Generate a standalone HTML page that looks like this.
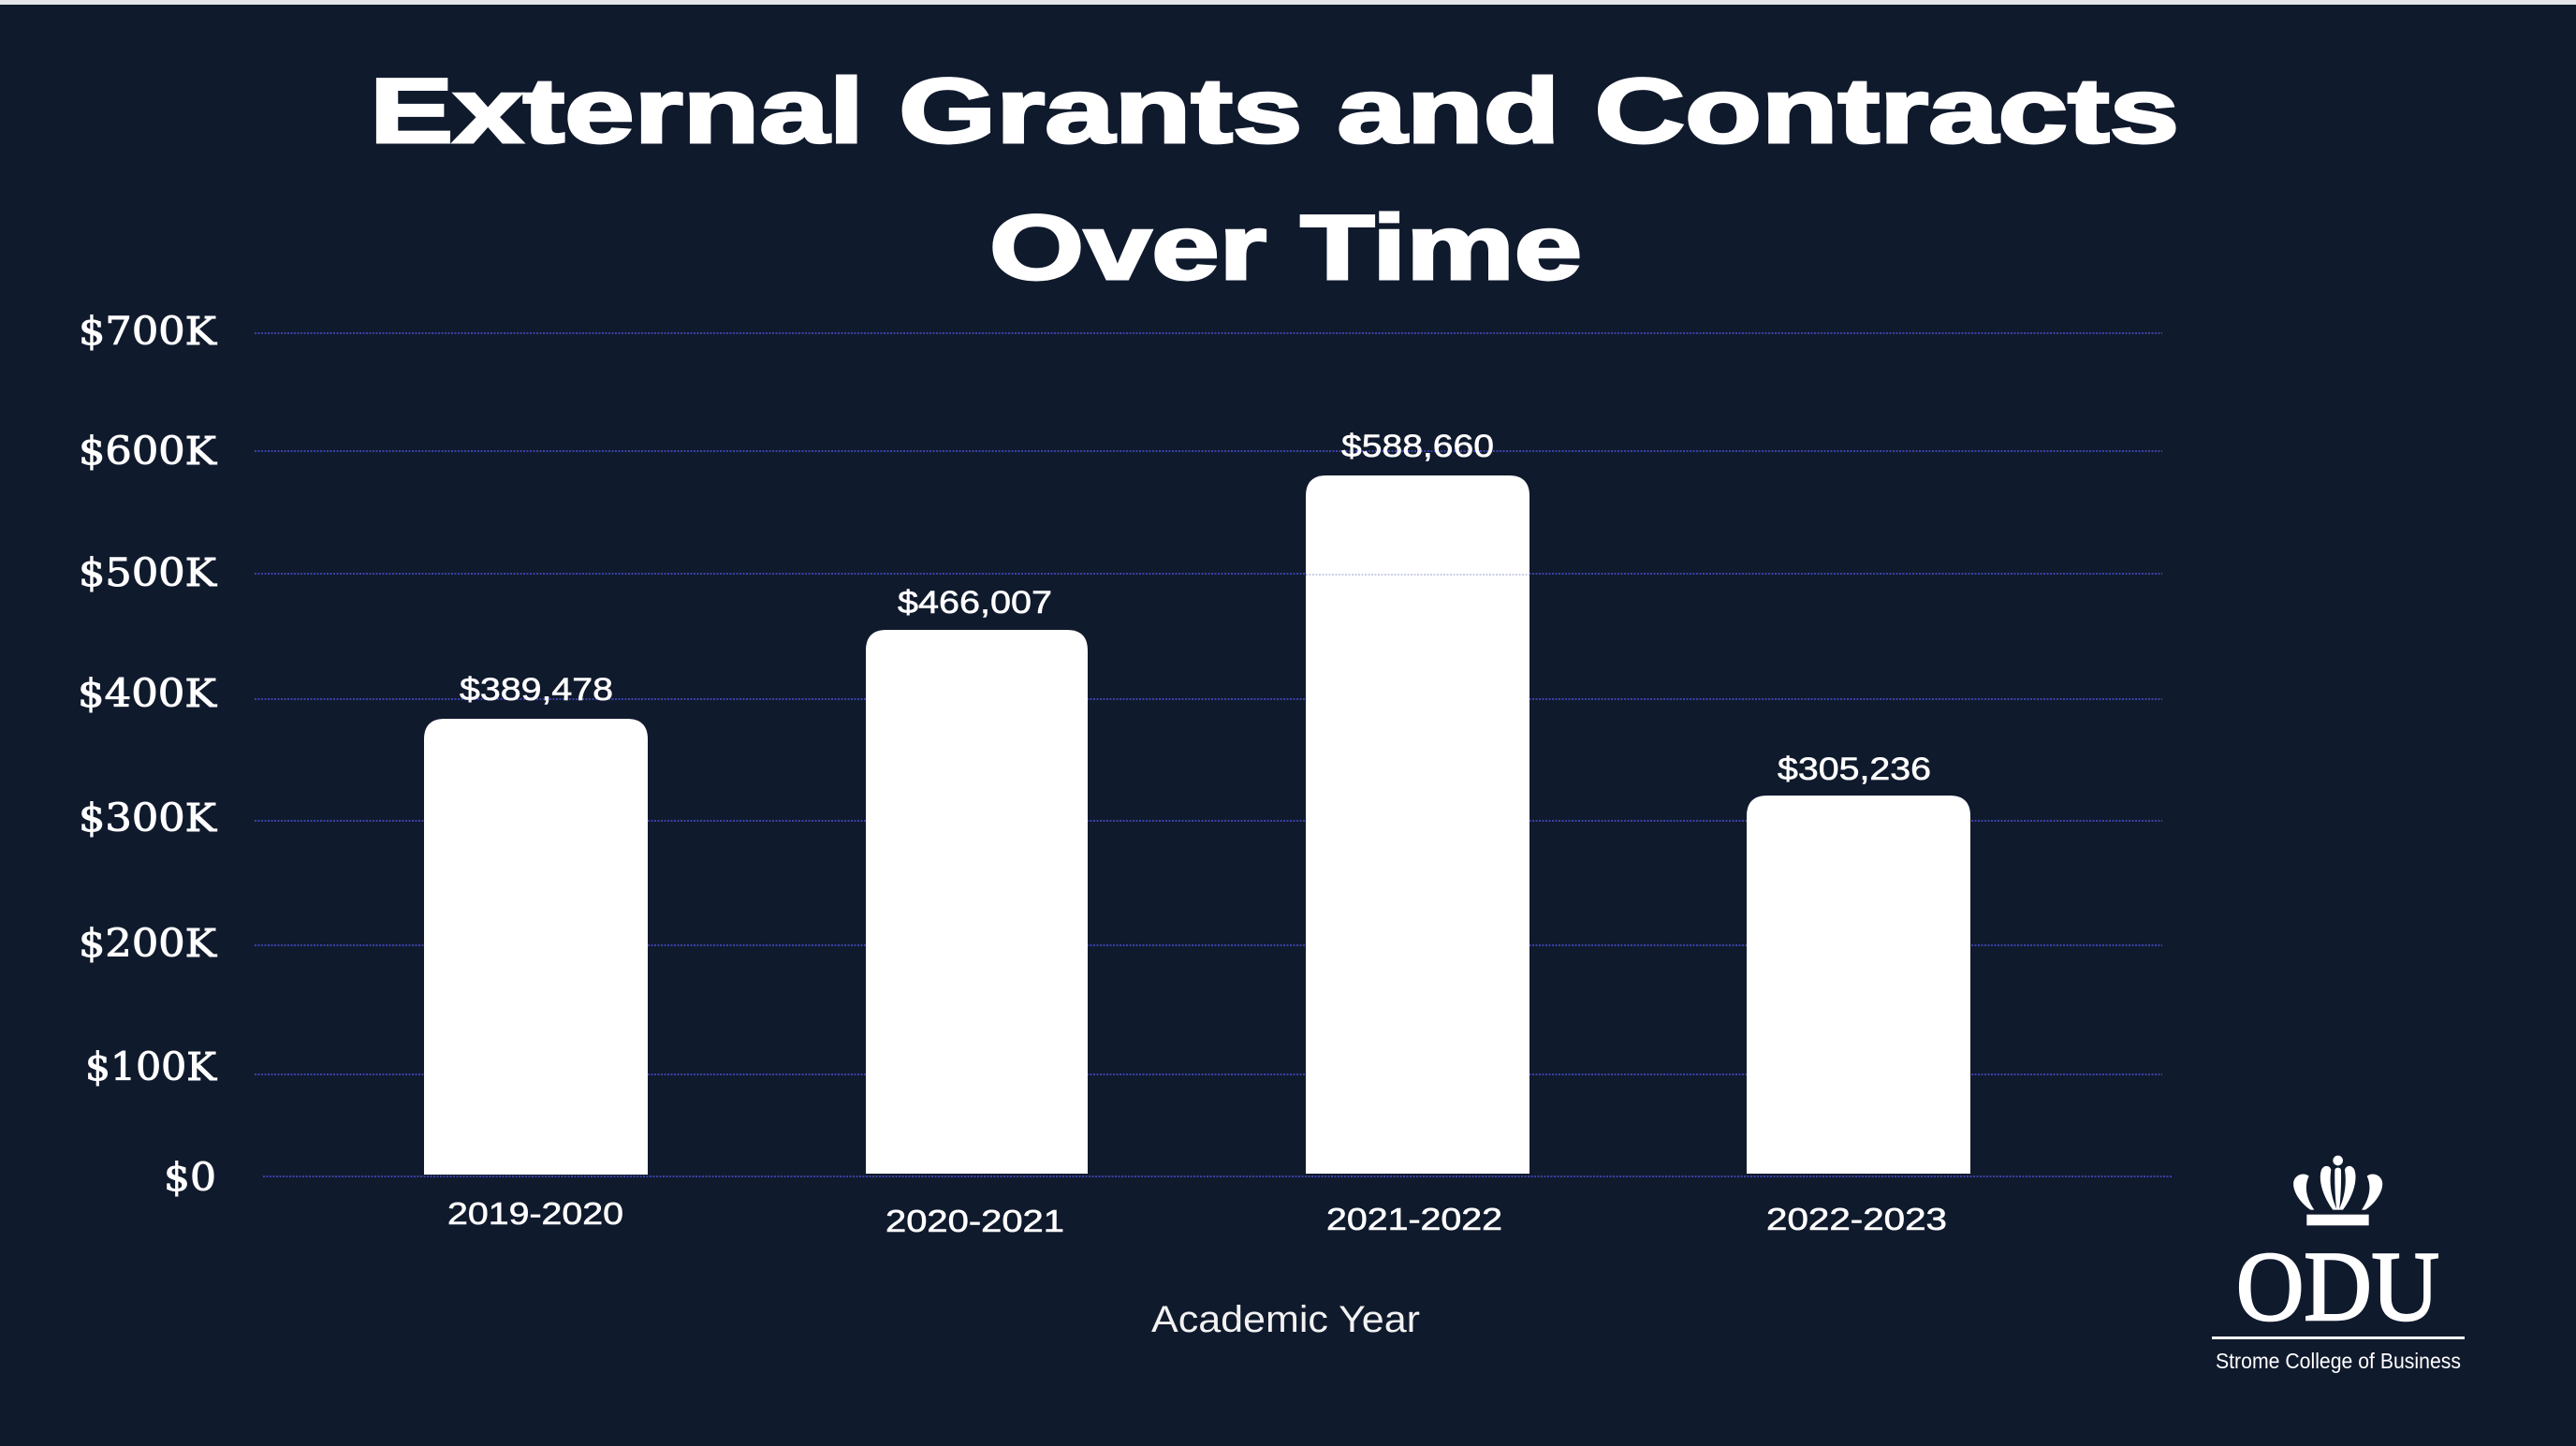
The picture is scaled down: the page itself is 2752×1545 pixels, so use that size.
<!DOCTYPE html>
<html>
<head>
<meta charset="utf-8">
<style>
  html, body { margin:0; padding:0; background:#101a2d; }
  body { width:2752px; height:1545px; overflow:hidden; }
  svg { display:block; }
</style>
</head>
<body>
<svg width="2752" height="1545" viewBox="0 0 2752 1545" xmlns="http://www.w3.org/2000/svg">
  <!-- background -->
  <rect x="0" y="0" width="2752" height="1545" fill="#101a2d"/>
  <rect x="0" y="0" width="2752" height="5" fill="#e4e6eb"/>

  <!-- Title -->
  <g font-family="'Liberation Sans', Arial, sans-serif" font-weight="bold" fill="#ffffff" stroke="#ffffff" stroke-width="3">
    <text x="395" y="152" font-size="98" textLength="1933" lengthAdjust="spacingAndGlyphs">External Grants and Contracts</text>
    <text x="1057" y="298" font-size="98" textLength="633" lengthAdjust="spacingAndGlyphs">Over Time</text>
  </g>

  <!-- gridlines -->
  <g stroke="#3a42a8" stroke-width="2" stroke-dasharray="2 1.5">
    <line x1="272" y1="356" x2="2310" y2="356"/>
    <line x1="272" y1="482" x2="2310" y2="482"/>
    <line x1="272" y1="613" x2="2310" y2="613"/>
    <line x1="272" y1="747" x2="2310" y2="747"/>
    <line x1="272" y1="877" x2="2310" y2="877"/>
    <line x1="272" y1="1010" x2="2310" y2="1010"/>
    <line x1="272" y1="1148" x2="2310" y2="1148"/>
    <line x1="281" y1="1257" x2="2320" y2="1257"/>
  </g>

  <!-- y axis labels -->
  <g font-family="'DejaVu Serif', 'Liberation Serif', serif" font-size="41" fill="#ffffff" stroke="#ffffff" stroke-width="1">
    <text x="84" y="368" textLength="147" lengthAdjust="spacingAndGlyphs">$700K</text>
    <text x="84" y="496" textLength="147" lengthAdjust="spacingAndGlyphs">$600K</text>
    <text x="84" y="626" textLength="147" lengthAdjust="spacingAndGlyphs">$500K</text>
    <text x="83" y="755" textLength="148" lengthAdjust="spacingAndGlyphs">$400K</text>
    <text x="84" y="888" textLength="147" lengthAdjust="spacingAndGlyphs">$300K</text>
    <text x="84" y="1022" textLength="147" lengthAdjust="spacingAndGlyphs">$200K</text>
    <text x="91" y="1154" textLength="140" lengthAdjust="spacingAndGlyphs">$100K</text>
    <text x="175" y="1272" textLength="56" lengthAdjust="spacingAndGlyphs">$0</text>
  </g>

  <!-- bars -->
  <g fill="#ffffff">
    <path d="M453,1255 L453,790 Q453,768 475,768 L670,768 Q692,768 692,790 L692,1255 Z"/>
    <path d="M925,1254 L925,695 Q925,673 947,673 L1140,673 Q1162,673 1162,695 L1162,1254 Z"/>
    <path d="M1395,1254 L1395,530 Q1395,508 1417,508 L1612,508 Q1634,508 1634,530 L1634,1254 Z"/>
    <path d="M1866,1254 L1866,872 Q1866,850 1888,850 L2083,850 Q2105,850 2105,872 L2105,1254 Z"/>
  </g>
  <!-- faint line across tallest bar -->
  <line x1="1395" y1="614" x2="1634" y2="614" stroke="#b9bde2" stroke-width="1.5" stroke-dasharray="2 1.5"/>

  <!-- data labels -->
  <g font-family="'Liberation Sans', Arial, sans-serif" font-size="34" fill="#ffffff" stroke="#ffffff" stroke-width="0.6">
    <text x="491" y="748" textLength="164" lengthAdjust="spacingAndGlyphs">$389,478</text>
    <text x="959" y="655" textLength="165" lengthAdjust="spacingAndGlyphs">$466,007</text>
    <text x="1433" y="488" textLength="163" lengthAdjust="spacingAndGlyphs">$588,660</text>
    <text x="1899" y="833" textLength="164" lengthAdjust="spacingAndGlyphs">$305,236</text>
  </g>

  <!-- x labels -->
  <g font-family="'Liberation Sans', Arial, sans-serif" font-size="33" fill="#ffffff" stroke="#ffffff" stroke-width="0.6">
    <text x="478" y="1308" textLength="188" lengthAdjust="spacingAndGlyphs">2019-2020</text>
    <text x="946" y="1316" textLength="191" lengthAdjust="spacingAndGlyphs">2020-2021</text>
    <text x="1417" y="1314" textLength="188" lengthAdjust="spacingAndGlyphs">2021-2022</text>
    <text x="1887" y="1314" textLength="193" lengthAdjust="spacingAndGlyphs">2022-2023</text>
  </g>

  <!-- axis title -->
  <text x="1230" y="1423" font-family="'Liberation Sans', Arial, sans-serif" font-size="40" fill="#f2f2f2" textLength="287" lengthAdjust="spacingAndGlyphs">Academic Year</text>

  <!-- ODU logo -->
  <g transform="translate(2300,1200) scale(0.33333)" fill="#ffffff">
    <circle cx="593" cy="120" r="16"/>
    <g>
      <path d="M505,278 C470,255 446,215 451,188 C456,164 485,157 500,170 C485,200 490,240 517,278 Z"/>
      <path d="M577,278 C548,240 528,185 540,150 C548,132 568,135 571,150 C565,190 570,235 590,278 Z"/>
    </g>
    <g transform="translate(1186,0) scale(-1,1)">
      <path d="M505,278 C470,255 446,215 451,188 C456,164 485,157 500,170 C485,200 490,240 517,278 Z"/>
      <path d="M577,278 C548,240 528,185 540,150 C548,132 568,135 571,150 C565,190 570,235 590,278 Z"/>
    </g>
    <path d="M583,152 C583,140 603,140 603,152 C604,200 601,250 597,278 L589,278 C585,250 582,200 583,152 Z"/>
    <rect x="493" y="293" width="199" height="35"/>
  </g>
  <text x="2389" y="1410" font-family="'Liberation Serif', 'Times New Roman', serif" font-size="106" fill="#ffffff" stroke="#ffffff" stroke-width="2.5" textLength="217" lengthAdjust="spacingAndGlyphs">ODU</text>
  <rect x="2363" y="1428" width="270" height="3" fill="#ffffff"/>
  <text x="2367" y="1462" font-family="'Liberation Sans', Arial, sans-serif" font-size="23" fill="#ffffff" textLength="262" lengthAdjust="spacingAndGlyphs">Strome College of Business</text>
</svg>
</body>
</html>
